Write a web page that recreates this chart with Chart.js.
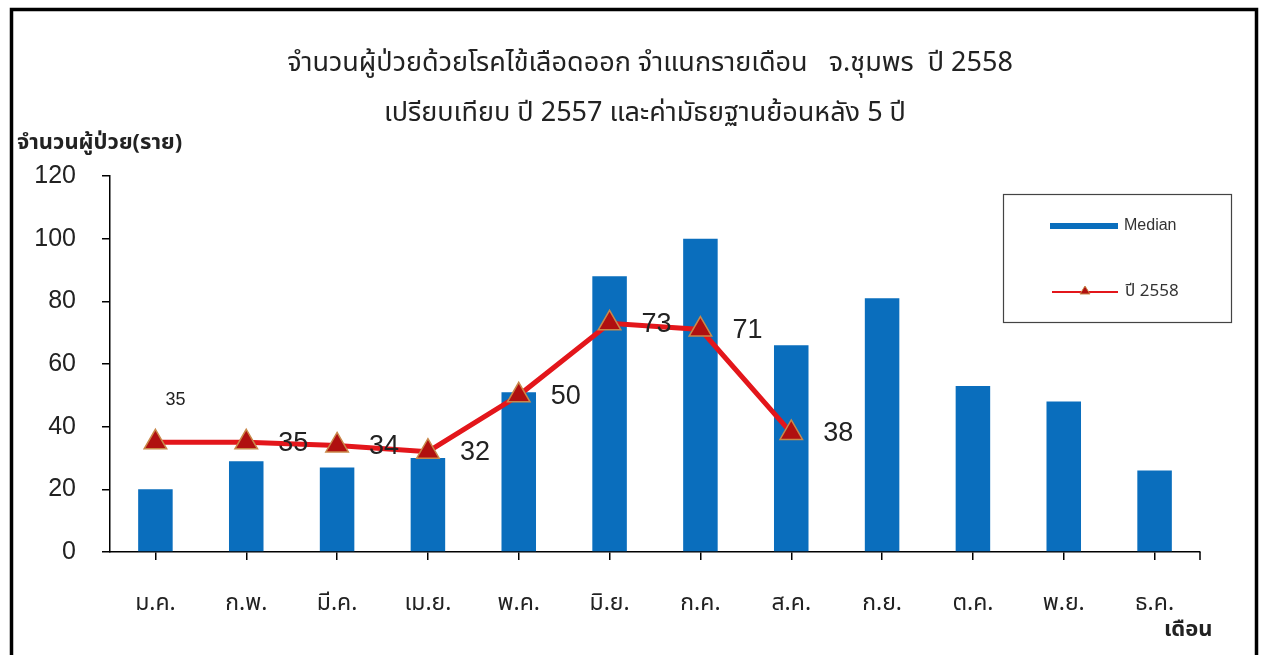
<!DOCTYPE html>
<html>
<head>
<meta charset="utf-8">
<script src="https://cdn.jsdelivr.net/npm/chart.js@4.4.0/dist/chart.umd.min.js"></script>
<style>
  html, body { margin: 0; padding: 0; background: #fff; }
  #wrap { position: absolute; left: 0; top: 0; width: 1263px; height: 655px; }
</style>
</head>
<body>
<div id="wrap"><canvas id="denChart" width="1263" height="655"></canvas></div>
<script>
const months = ['ม.ค.', 'ก.พ.', 'มี.ค.', 'เม.ย.', 'พ.ค.', 'มิ.ย.', 'ก.ค.', 'ส.ค.', 'ก.ย.', 'ต.ค.', 'พ.ย.', 'ธ.ค.'];
const medianCases = [20, 29, 27, 30, 51, 88, 100, 66, 81, 53, 48, 26];
const cases2558 = [35, 35, 34, 32, 50, 73, 71, 38, null, null, null, null];
const yTicks = [0, 20, 40, 60, 80, 100, 120];

const titleLines = [
    'จำนวนผู้ป่วยด้วยโรคไข้เลือดออก จำแนกรายเดือน   จ.ชุมพร  ปี 2558',
    'เปรียบเทียบ ปี 2557 และค่ามัธยฐานย้อนหลัง 5 ปี'
];
const thaiFont = '"Noto Sans Thai", "Tahoma", "Loma", "Garuda", "DejaVu Sans", sans-serif';
const numFont = '"Liberation Sans", Arial, sans-serif';

const canvas = document.getElementById('denChart');

// frame, titles, axis titles, legend and value labels
const decorPlugin = {
    id: 'decor',
    beforeDraw(chart) {
        const ctx = chart.ctx;
        ctx.save();
        ctx.fillStyle = '#fff';
        ctx.fillRect(0, 0, chart.width, chart.height);
        ctx.restore();
    },
    afterDraw(chart) {
        const ctx = chart.ctx;
        ctx.save();

        // outer frame
        ctx.strokeStyle = '#000';
        ctx.lineWidth = 3.5;
        ctx.strokeRect(11.5, 9.5, 1245, 660);

        // titles
        ctx.fillStyle = '#222';
        ctx.textAlign = 'center';
        ctx.textBaseline = 'middle';
        ctx.font = '27px ' + thaiFont;
        ctx.fillText(titleLines[0], 650, 66);
        ctx.fillText(titleLines[1], 645, 116);

        ctx.textAlign = 'left';
        ctx.font = 'bold 22px ' + thaiFont;
        ctx.fillText('จำนวนผู้ป่วย(ราย)', 17, 145);
        ctx.fillText('เดือน', 1164, 632);

        // x axis end tick
        const x = chart.scales.x, y = chart.scales.y;
        ctx.strokeStyle = '#000';
        ctx.lineWidth = 1.5;
        ctx.beginPath();
        ctx.moveTo(x.right, y.bottom);
        ctx.lineTo(x.right, y.bottom + 8);
        ctx.stroke();

        // value labels for line series
        const meta = chart.getDatasetMeta(1);
        ctx.fillStyle = '#222';
        ctx.textBaseline = 'middle';
        meta.data.forEach((pt, i) => {
            const v = cases2558[i];
            if (v === null) return;
            if (i === 0) {
                ctx.font = '18px ' + numFont;
                ctx.textAlign = 'center';
                ctx.fillText(String(v), pt.x + 20, pt.y - 42);
            } else {
                ctx.font = '27px ' + numFont;
                ctx.textAlign = 'left';
                ctx.fillText(String(v), pt.x + 32, pt.y + 1);
            }
        });

        // legend box
        ctx.strokeStyle = '#444';
        ctx.lineWidth = 1.2;
        ctx.strokeRect(1003.5, 194.5, 228, 128);
        ctx.strokeStyle = '#0a6ebd';
        ctx.lineWidth = 6;
        ctx.beginPath();
        ctx.moveTo(1050, 226);
        ctx.lineTo(1118, 226);
        ctx.stroke();
        ctx.strokeStyle = '#e3161b';
        ctx.lineWidth = 2;
        ctx.beginPath();
        ctx.moveTo(1052, 292);
        ctx.lineTo(1118, 292);
        ctx.stroke();
        ctx.fillStyle = '#b01010';
        ctx.strokeStyle = '#c9884a';
        ctx.lineWidth = 1;
        ctx.beginPath();
        ctx.moveTo(1085, 286);
        ctx.lineTo(1090, 294);
        ctx.lineTo(1080, 294);
        ctx.closePath();
        ctx.fill();
        ctx.stroke();
        ctx.fillStyle = '#333';
        ctx.font = '16px ' + numFont;
        ctx.fillText('Median', 1124, 226);
        ctx.font = '17px ' + thaiFont;
        ctx.fillText('ปี 2558', 1125, 293);

        ctx.restore();
    }
};

new Chart(canvas, {
    data: {
        labels: months,
        datasets: [
            {
                type: 'bar',
                label: 'Median',
                data: medianCases,
                backgroundColor: '#0a6ebd',
                barPercentage: 0.76,
                categoryPercentage: 0.5,
                order: 2
            },
            {
                type: 'line',
                label: 'ปี 2558',
                data: cases2558,
                borderColor: '#e3161b',
                borderWidth: 5,
                pointStyle: 'triangle',
                pointRadius: 13,
                pointBackgroundColor: '#b01010',
                pointBorderColor: '#c9884a',
                pointBorderWidth: 1.5,
                tension: 0,
                spanGaps: false,
                order: 1
            }
        ]
    },
    options: {
        responsive: false,
        animation: false,
        layout: { padding: { top: 176, left: 0, right: 63, bottom: 0 } },
        plugins: {
            legend: { display: false },
            title: { display: false },
            tooltip: { enabled: false }
        },
        scales: {
            x: {
                grid: { offset: false, drawOnChartArea: false, drawTicks: true, tickLength: 8, color: '#000', lineWidth: 1.5 },
                border: { display: true, color: '#000', width: 1.5 },
                ticks: { color: '#222', padding: 32, font: { size: 23, family: thaiFont } },
                afterFit(scale) { scale.height = 103; }
            },
            y: {
                min: 0,
                max: 120,
                afterBuildTicks(scale) { scale.ticks = yTicks.map(v => ({ value: v })); },
                grid: { drawOnChartArea: false, drawTicks: true, tickLength: 8, color: '#000', lineWidth: 1.5 },
                border: { display: true, color: '#000', width: 1.5 },
                ticks: { color: '#222', padding: 26, font: { size: 25, family: numFont } },
                afterFit(scale) { scale.width = 110; }
            }
        }
    },
    plugins: [decorPlugin]
});
</script>
</body>
</html>
